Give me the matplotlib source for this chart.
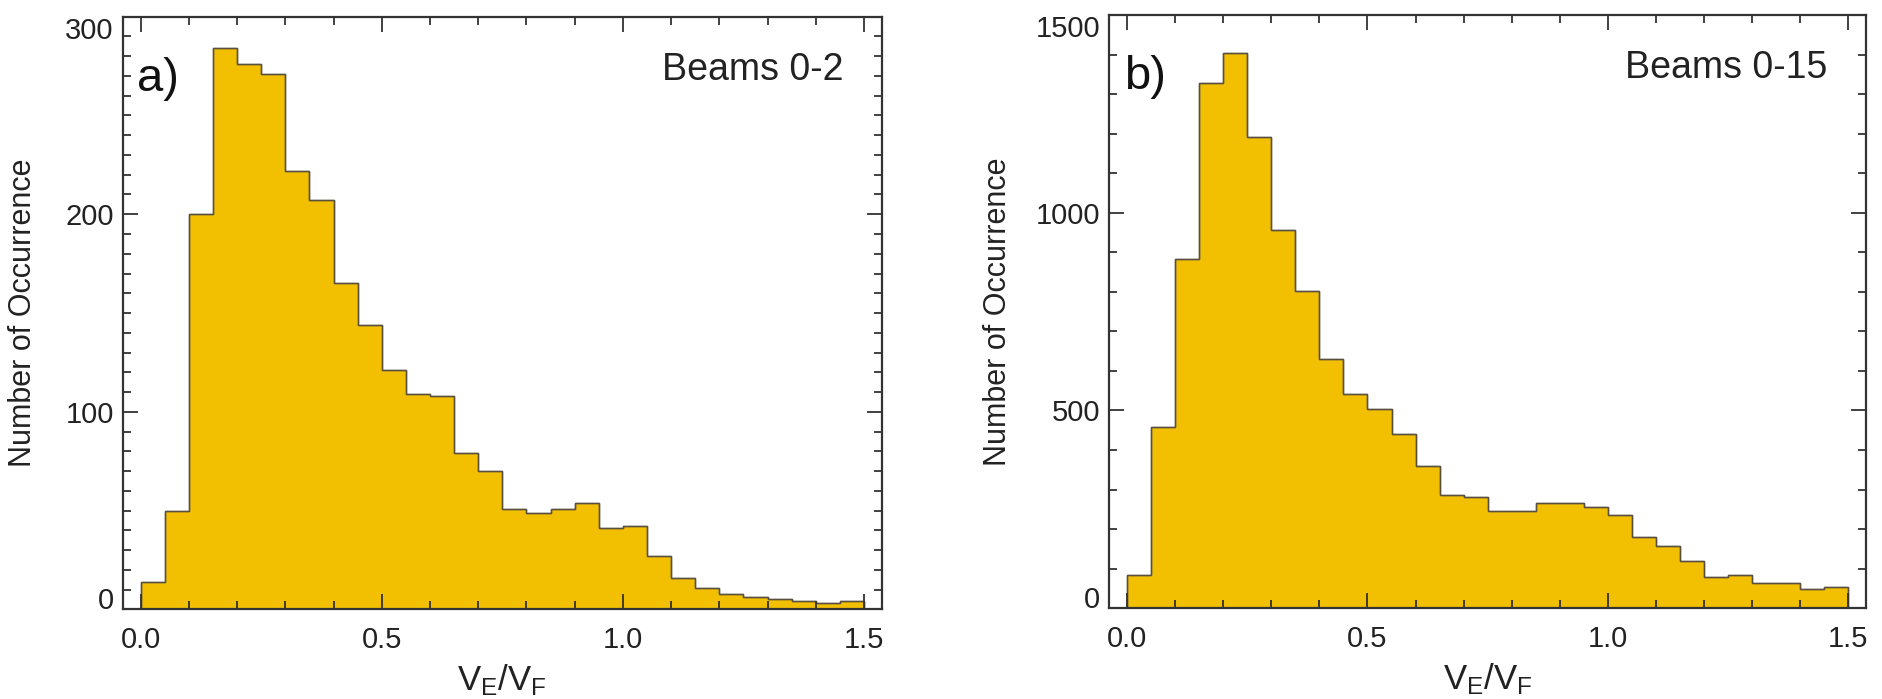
import numpy as np
import matplotlib
matplotlib.use("Agg")
import matplotlib.pyplot as plt
import matplotlib.transforms as mtransforms
from matplotlib.ticker import MultipleLocator, FuncFormatter

plt.rcParams['font.family'] = ['Liberation Sans', 'DejaVu Sans']
plt.rcParams['mathtext.default'] = 'regular'

# histogram bins of V_E/V_F (width 0.05, 0 .. 1.5)
bin_edges = np.round(np.arange(31) * 0.05, 2)

# panel a) Beams 0-2
counts_a = [14, 50, 200, 284, 276, 271, 222, 207, 165, 144,
            121, 109, 108, 79, 70, 51, 49, 51, 54, 41,
            42, 27, 16, 11, 8, 6, 5, 4, 3, 4]
# panel b) Beams 0-15
counts_b = [84, 458, 882, 1328, 1403, 1192, 956, 802, 629, 541,
            503, 440, 359, 287, 282, 247, 247, 267, 265, 255,
            236, 180, 158, 120, 80, 83, 65, 65, 48, 55]

panels = [
    dict(counts=counts_a, tag="a)", title="Beams 0-2", ymax=300,
         ymajor=100, yminor=10, ylab_x=-0.112,
         rect=[0.0652, 0.1283, 0.4031, 0.8478]),
    dict(counts=counts_b, tag="b)", title="Beams 0-15", ymax=1500,
         ymajor=500, yminor=100, ylab_x=-0.127,
         rect=[0.5891, 0.1298, 0.4019, 0.8488]),
]

fill_color = "#F2C000"
edge_color = "#5a5040"
axis_color = "#333333"
text_color = "#222222"
tick_fs = 21
label_pad_pt = 6.5

fig = plt.figure(figsize=(18.83, 6.99), dpi=100)

for p in panels:
    ax = fig.add_axes(p["rect"])
    ax.stairs(p["counts"], bin_edges, fill=True, facecolor=fill_color,
              edgecolor=edge_color, linewidth=1.0, baseline=0)
    ax.stairs(p["counts"], bin_edges, fill=False, color=edge_color,
              linewidth=1.0, baseline=0)

    ymax = p["ymax"]
    ax.set_xlim(-0.037, 1.537)
    ax.set_ylim(0, ymax)
    ax.xaxis.set_major_locator(MultipleLocator(0.5))
    ax.xaxis.set_minor_locator(MultipleLocator(0.1))
    ax.yaxis.set_major_locator(MultipleLocator(p["ymajor"]))
    ax.yaxis.set_minor_locator(MultipleLocator(p["yminor"]))
    ax.xaxis.set_major_formatter(plt.FormatStrFormatter("%.1f"))
    # end labels are placed by hand (shifted inside the axis range)
    ax.yaxis.set_major_formatter(FuncFormatter(
        lambda v, pos, top=ymax: "" if v <= 0 or v >= top else "%d" % v))

    for s in ax.spines.values():
        s.set_linewidth(1.6)
        s.set_color(axis_color)
        s.set_zorder(5)

    ax.tick_params(which="both", direction="in", top=True, right=True,
                   color=axis_color, width=1.3, labelsize=tick_fs,
                   labelcolor=text_color)
    ax.tick_params(which="major", length=11, pad=label_pad_pt)
    ax.tick_params(which="minor", length=5.5)
    ax.tick_params(axis="x", which="major", pad=12)

    trans = mtransforms.blended_transform_factory(ax.transAxes, ax.transData) + \
        mtransforms.ScaledTranslation(-label_pad_pt / 72, 0, fig.dpi_scale_trans)
    ax.text(0, 0, "0", transform=trans, ha="right", va="baseline",
            fontsize=tick_fs, color=text_color)
    ax.text(0, ymax, "%d" % ymax, transform=trans, ha="right", va="top",
            fontsize=tick_fs, color=text_color)

    ax.set_xlabel("$V_E/V_F$", fontsize=25, color=text_color, labelpad=6)
    ax.set_ylabel("Number of Occurrence", fontsize=22, color=text_color)
    ax.yaxis.set_label_coords(p["ylab_x"], 0.5)

    ax.text(0.019, 0.895, p["tag"], transform=ax.transAxes, fontsize=34,
            va="center", ha="left", color="#111111")
    ax.text(0.949, 0.893, p["title"], transform=ax.transAxes, fontsize=27,
            va="baseline", ha="right", color=text_color)

fig.savefig("out.png", dpi=100)
